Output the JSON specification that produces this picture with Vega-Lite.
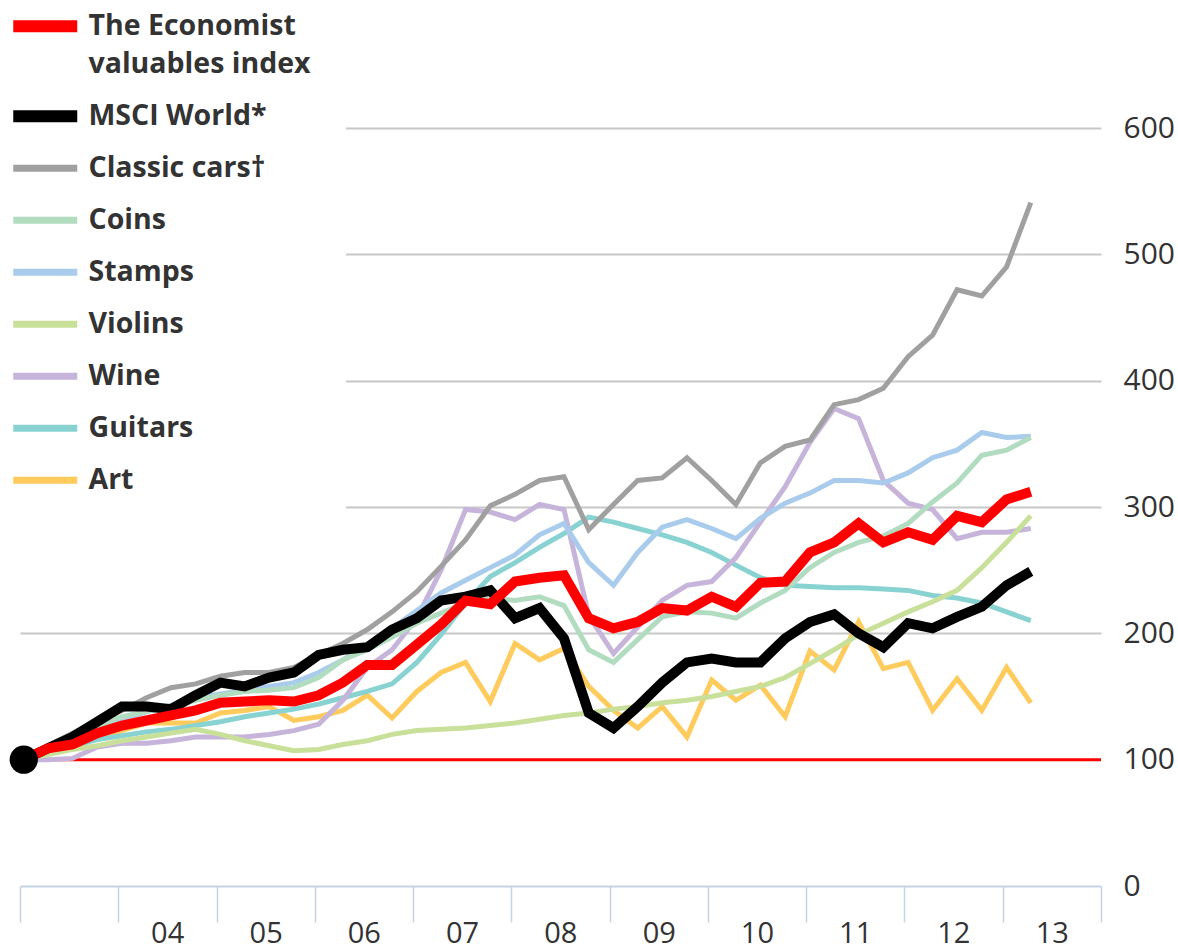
{
  "$schema": "https://vega.github.io/schema/vega-lite/v6.json",
  "autosize": {"type": "none"},
  "padding": {"left": 20, "top": 128, "right": 77, "bottom": 63},
  "width": 1081,
  "height": 758,
  "background": "white",
  "config": {
    "view": {"stroke": null},
    "font": "Open Sans"
  },
  "data": {
    "values": [
      {"d": "2003-01-15", "eco": 100, "msci": 100, "cars": 100, "coins": 100, "stamps": 100, "violins": 100, "wine": 100, "guitars": 100, "art": 100},
      {"d": "2003-04-15", "eco": 109, "msci": 109, "cars": 111, "coins": 108, "stamps": 108, "violins": 104, "wine": 100, "guitars": 105, "art": 106},
      {"d": "2003-07-15", "eco": 112, "msci": 118, "cars": 121, "coins": 117, "stamps": 116, "violins": 108, "wine": 101, "guitars": 111, "art": 112},
      {"d": "2003-10-15", "eco": 121, "msci": 130, "cars": 131, "coins": 127, "stamps": 125, "violins": 111, "wine": 110, "guitars": 116, "art": 117},
      {"d": "2004-01-15", "eco": 127, "msci": 142, "cars": 139, "coins": 134, "stamps": 131, "violins": 115, "wine": 113, "guitars": 119, "art": 123},
      {"d": "2004-04-15", "eco": 131, "msci": 142, "cars": 149, "coins": 138, "stamps": 138, "violins": 118, "wine": 113, "guitars": 122, "art": 129},
      {"d": "2004-07-15", "eco": 135, "msci": 140, "cars": 157, "coins": 142, "stamps": 143, "violins": 121, "wine": 115, "guitars": 124, "art": 129},
      {"d": "2004-10-15", "eco": 139, "msci": 151, "cars": 160, "coins": 147, "stamps": 149, "violins": 124, "wine": 118, "guitars": 127, "art": 129},
      {"d": "2005-01-15", "eco": 145, "msci": 161, "cars": 166, "coins": 151, "stamps": 152, "violins": 120, "wine": 118, "guitars": 130, "art": 137},
      {"d": "2005-04-15", "eco": 146, "msci": 158, "cars": 169, "coins": 154, "stamps": 155, "violins": 115, "wine": 118, "guitars": 134, "art": 139},
      {"d": "2005-07-15", "eco": 147, "msci": 165, "cars": 169, "coins": 155, "stamps": 158, "violins": 111, "wine": 120, "guitars": 137, "art": 142},
      {"d": "2005-10-15", "eco": 146, "msci": 169, "cars": 173, "coins": 157, "stamps": 161, "violins": 107, "wine": 123, "guitars": 140, "art": 131},
      {"d": "2006-01-15", "eco": 151, "msci": 183, "cars": 183, "coins": 165, "stamps": 169, "violins": 108, "wine": 128, "guitars": 144, "art": 134},
      {"d": "2006-04-15", "eco": 161, "msci": 187, "cars": 192, "coins": 179, "stamps": 179, "violins": 112, "wine": 147, "guitars": 149, "art": 139},
      {"d": "2006-07-15", "eco": 175, "msci": 189, "cars": 203, "coins": 187, "stamps": 191, "violins": 115, "wine": 173, "guitars": 154, "art": 151},
      {"d": "2006-10-15", "eco": 175, "msci": 203, "cars": 217, "coins": 197, "stamps": 204, "violins": 120, "wine": 187, "guitars": 160, "art": 133},
      {"d": "2007-01-15", "eco": 191, "msci": 212, "cars": 233, "coins": 208, "stamps": 218, "violins": 123, "wine": 212, "guitars": 177, "art": 154},
      {"d": "2007-04-15", "eco": 207, "msci": 226, "cars": 253, "coins": 216, "stamps": 232, "violins": 124, "wine": 250, "guitars": 199, "art": 169},
      {"d": "2007-07-15", "eco": 226, "msci": 229, "cars": 274, "coins": 224, "stamps": 242, "violins": 125, "wine": 298, "guitars": 224, "art": 177},
      {"d": "2007-10-15", "eco": 223, "msci": 234, "cars": 301, "coins": 228, "stamps": 252, "violins": 127, "wine": 296, "guitars": 245, "art": 146},
      {"d": "2008-01-15", "eco": 241, "msci": 212, "cars": 310, "coins": 226, "stamps": 262, "violins": 129, "wine": 290, "guitars": 256, "art": 192},
      {"d": "2008-04-15", "eco": 244, "msci": 220, "cars": 321, "coins": 229, "stamps": 278, "violins": 132, "wine": 302, "guitars": 268, "art": 179},
      {"d": "2008-07-15", "eco": 246, "msci": 196, "cars": 324, "coins": 222, "stamps": 287, "violins": 135, "wine": 298, "guitars": 279, "art": 188},
      {"d": "2008-10-15", "eco": 212, "msci": 137, "cars": 282, "coins": 187, "stamps": 256, "violins": 137, "wine": 214, "guitars": 292, "art": 158},
      {"d": "2009-01-15", "eco": 204, "msci": 125, "cars": 302, "coins": 177, "stamps": 238, "violins": 140, "wine": 184, "guitars": 288, "art": 139},
      {"d": "2009-04-15", "eco": 209, "msci": 142, "cars": 321, "coins": 195, "stamps": 264, "violins": 142, "wine": 205, "guitars": 283, "art": 125},
      {"d": "2009-07-15", "eco": 220, "msci": 161, "cars": 323, "coins": 213, "stamps": 284, "violins": 145, "wine": 226, "guitars": 278, "art": 142},
      {"d": "2009-10-15", "eco": 218, "msci": 177, "cars": 339, "coins": 217, "stamps": 290, "violins": 147, "wine": 238, "guitars": 272, "art": 118},
      {"d": "2010-01-15", "eco": 229, "msci": 180, "cars": 321, "coins": 216, "stamps": 283, "violins": 150, "wine": 241, "guitars": 264, "art": 163},
      {"d": "2010-04-15", "eco": 221, "msci": 177, "cars": 302, "coins": 212, "stamps": 275, "violins": 154, "wine": 260, "guitars": 254, "art": 147},
      {"d": "2010-07-15", "eco": 240, "msci": 177, "cars": 335, "coins": 224, "stamps": 291, "violins": 158, "wine": 288, "guitars": 244, "art": 159},
      {"d": "2010-10-15", "eco": 241, "msci": 196, "cars": 348, "coins": 234, "stamps": 303, "violins": 165, "wine": 316, "guitars": 238, "art": 134},
      {"d": "2011-01-15", "eco": 264, "msci": 209, "cars": 353, "coins": 252, "stamps": 311, "violins": 176, "wine": 351, "guitars": 237, "art": 186},
      {"d": "2011-04-15", "eco": 272, "msci": 215, "cars": 381, "coins": 264, "stamps": 321, "violins": 187, "wine": 378, "guitars": 236, "art": 171},
      {"d": "2011-07-15", "eco": 287, "msci": 200, "cars": 385, "coins": 272, "stamps": 321, "violins": 199, "wine": 370, "guitars": 236, "art": 209},
      {"d": "2011-10-15", "eco": 272, "msci": 189, "cars": 394, "coins": 277, "stamps": 319, "violins": 208, "wine": 321, "guitars": 235, "art": 172},
      {"d": "2012-01-15", "eco": 280, "msci": 208, "cars": 419, "coins": 287, "stamps": 327, "violins": 217, "wine": 303, "guitars": 234, "art": 177},
      {"d": "2012-04-15", "eco": 274, "msci": 204, "cars": 436, "coins": 304, "stamps": 339, "violins": 225, "wine": 298, "guitars": 230, "art": 139},
      {"d": "2012-07-15", "eco": 293, "msci": 213, "cars": 472, "coins": 319, "stamps": 345, "violins": 234, "wine": 275, "guitars": 228, "art": 164},
      {"d": "2012-10-15", "eco": 288, "msci": 221, "cars": 467, "coins": 341, "stamps": 359, "violins": 252, "wine": 280, "guitars": 224, "art": 139},
      {"d": "2013-01-15", "eco": 306, "msci": 238, "cars": 490, "coins": 345, "stamps": 355, "violins": 272, "wine": 280, "guitars": 217, "art": 173},
      {"d": "2013-04-15", "eco": 312, "msci": 249, "cars": 541, "coins": 355, "stamps": 356, "violins": 293, "wine": 283, "guitars": 210, "art": 145}
    ]
  },
  "layer": [
    {
      "data": {"values": [{"base": 100}]},
      "mark": {"type": "rule", "color": "#ff0000", "strokeWidth": 3},
      "encoding": {
        "y": {"field": "base", "type": "quantitative"}
      }
    },
    {
      "transform": [
        {"fold": ["art", "guitars", "wine", "violins", "stamps", "coins", "cars", "msci", "eco"], "as": ["series", "value"]}
      ],
      "mark": {"type": "line", "strokeJoin": "miter", "strokeCap": "butt"},
      "encoding": {
        "x": {
          "field": "d",
          "type": "temporal",
          "scale": {"domain": [{"year": 2003, "month": 1, "date": 1}, {"year": 2014, "month": 1, "date": 1}]},
          "axis": {
            "orient": "bottom",
            "title": null,
            "grid": false,
            "values": [
              {"year": 2003, "month": 1, "date": 1}, {"year": 2004, "month": 1, "date": 1},
              {"year": 2005, "month": 1, "date": 1}, {"year": 2006, "month": 1, "date": 1},
              {"year": 2007, "month": 1, "date": 1}, {"year": 2008, "month": 1, "date": 1},
              {"year": 2009, "month": 1, "date": 1}, {"year": 2010, "month": 1, "date": 1},
              {"year": 2011, "month": 1, "date": 1}, {"year": 2012, "month": 1, "date": 1},
              {"year": 2013, "month": 1, "date": 1}, {"year": 2014, "month": 1, "date": 1}
            ],
            "labelExpr": "year(datum.value) >= 2004 && year(datum.value) <= 2013 ? timeFormat(datum.value, '%y') : ''",
            "labelOffset": 49,
            "labelAlign": "center",
            "labelBaseline": "top",
            "labelFlush": false,
            "labelOverlap": false,
            "labelBound": false,
            "labelPadding": -3,
            "labelFontSize": 29,
            "labelColor": "#333333",
            "labelFont": "Open Sans",
            "domainColor": "#c5d3e3",
            "domainWidth": 2,
            "tickColor": "#c5d3e3",
            "tickWidth": 1.5,
            "tickSize": 36
          }
        },
        "y": {
          "field": "value",
          "type": "quantitative",
          "scale": {"domain": [0, 600], "nice": false},
          "axis": {
            "orient": "right",
            "title": null,
            "values": [0, 100, 200, 300, 400, 500, 600],
            "domain": false,
            "ticks": false,
            "tickSize": 0,
            "labelPadding": 22,
            "labelAlign": "left",
            "labelFontSize": 30,
            "labelColor": "#333333",
            "labelFont": "Open Sans",
            "grid": true,
            "gridWidth": 2,
            "gridColor": {"condition": {"test": "datum.value <= 100", "value": "transparent"}, "value": "#c8c8c8"}
          }
        },
        "color": {
          "field": "series",
          "type": "nominal",
          "scale": {
            "domain": ["eco", "msci", "cars", "coins", "stamps", "violins", "wine", "guitars", "art"],
            "range": ["#ff0000", "#000000", "#a0a0a0", "#b2dcc0", "#aaccec", "#c9e09a", "#c6b4da", "#88d2d2", "#ffcb5c"]
          },
          "legend": {
            "orient": "none",
            "legendX": -24,
            "legendY": -151,
            "title": null,
            "symbolType": "M-4,0H4",
            "symbolSize": 256,
            "symbolStrokeWidth": 7,
            "labelFont": "Open Sans",
            "labelFontSize": 28.5,
            "labelFontWeight": "bold",
            "labelColor": "#333333",
            "labelOffset": 29,
            "labelLimit": 400,
            "rowPadding": 23,
            "gridAlign": "none",
            "padding": 35,
            "fillColor": "white",
            "labelExpr": "datum.value === 'eco' ? ['The Economist', 'valuables index'] : datum.value === 'msci' ? 'MSCI World*' : datum.value === 'cars' ? 'Classic cars†' : datum.value === 'coins' ? 'Coins' : datum.value === 'stamps' ? 'Stamps' : datum.value === 'violins' ? 'Violins' : datum.value === 'wine' ? 'Wine' : datum.value === 'guitars' ? 'Guitars' : 'Art'",
            "encode": {
              "symbols": {"update": {
                "strokeWidth": {"signal": "datum.value === 'eco' || datum.value === 'msci' ? 12 : 7"},
                "strokeJoin": {"value": "round"},
                "strokeCap": {"value": "butt"}
              }},
              "labels": {"update": {"lineHeight": {"value": 38}}}
            }
          }
        },
        "strokeWidth": {
          "condition": {"test": "datum.series === 'eco' || datum.series === 'msci'", "value": 10},
          "value": 5
        }
      }
    },
    {
      "transform": [{"filter": "year(datum.d) === 2003 && month(datum.d) === 0"}],
      "mark": {"type": "point", "filled": true, "color": "#000000", "opacity": 1, "size": 800},
      "encoding": {
        "x": {"field": "d", "type": "temporal"},
        "y": {"field": "msci", "type": "quantitative"}
      }
    }
  ]
}
